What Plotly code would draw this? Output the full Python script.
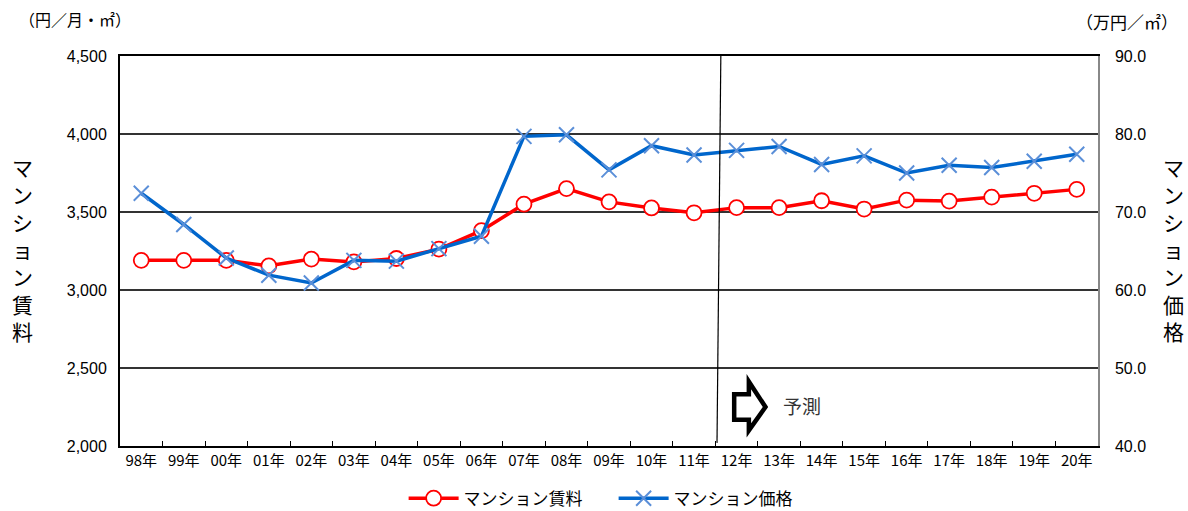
import plotly.graph_objects as go

years = ["98年", "99年", "00年", "01年", "02年", "03年", "04年", "05年", "06年", "07年", "08年",
         "09年", "10年", "11年", "12年", "13年", "14年", "15年", "16年", "17年", "18年", "19年", "20年"]

# マンション賃料 (円/月・㎡), left axis
rent = [3190, 3190, 3190, 3155, 3198, 3180, 3202, 3262, 3380, 3550, 3650,
        3565, 3526, 3495, 3528, 3528, 3572, 3519, 3576, 3570, 3595, 3620, 3645]

# マンション価格 (万円/㎡), right axis
price = [72.4, 68.4, 64.1, 61.9, 60.9, 63.8, 63.7, 65.3, 66.9, 79.7, 79.9,
         75.4, 78.5, 77.3, 77.9, 78.4, 76.1, 77.2, 75.0, 76.0, 75.7, 76.5, 77.4]

FONT = "Noto Sans CJK JP"

fig = go.Figure()

fig.add_trace(go.Scatter(
    x=years, y=rent, name="マンション賃料", mode="lines+markers",
    line=dict(color="#ff0000", width=3.5),
    marker=dict(symbol="circle", size=15, color="white",
                line=dict(color="#ff0000", width=1.8)),
    yaxis="y",
))

fig.add_trace(go.Scatter(
    x=years, y=price, name="マンション価格", mode="lines+markers",
    line=dict(color="#0066cc", width=3.5),
    marker=dict(symbol="x-thin", size=15, color="#5b8fd8",
                line=dict(color="#5b8fd8", width=2)),
    yaxis="y2",
))

# forecast divider between 11年 and 12年
fig.add_shape(type="line", xref="x", yref="paper",
              x0=13.63, x1=13.54, y0=1, y1=0.008,
              line=dict(color="black", width=1.2))

# outlined block arrow pointing right
fig.add_shape(type="path", xref="paper", yref="paper",
              path="M 0.628 0.133 L 0.643 0.133 L 0.643 0.165 L 0.660 0.100 L 0.643 0.040 "
                   "L 0.643 0.067 L 0.628 0.067 Z",
              line=dict(color="black", width=4.5), fillcolor="white")

fig.add_annotation(text="予測", xref="paper", yref="paper", x=0.676, y=0.105,
                   xanchor="left", yanchor="middle", showarrow=False,
                   font=dict(family=FONT, size=19, color="#333333"))

# unit labels
fig.add_annotation(text="（円／月・㎡）", xref="paper", yref="paper", x=-0.105, y=1.095,
                   xanchor="left", yanchor="middle", showarrow=False,
                   font=dict(family=FONT, size=16, color="black"))
fig.add_annotation(text="（万円／㎡）", xref="paper", yref="paper", x=0.975, y=1.088,
                   xanchor="left", yanchor="middle", showarrow=False,
                   font=dict(family=FONT, size=17, color="black"))

# vertical axis titles
fig.add_annotation(text="<br>".join("マンション賃料"), xref="paper", yref="paper",
                   x=-0.1, y=0.505, xanchor="center", yanchor="middle", showarrow=False,
                   font=dict(family=FONT, size=21, color="black"))
fig.add_annotation(text="<br>".join("マンション価格"), xref="paper", yref="paper",
                   x=1.077, y=0.505, xanchor="center", yanchor="middle", showarrow=False,
                   font=dict(family=FONT, size=21, color="black"))

fig.update_layout(
    width=1188, height=511,
    margin=dict(l=120, r=90, t=56, b=65, autoexpand=False),
    paper_bgcolor="white", plot_bgcolor="white",
    font=dict(family=FONT, size=15, color="black"),
    showlegend=True,
    legend=dict(orientation="h", x=0.29, xanchor="left", y=-0.135, yanchor="middle",
                font=dict(family=FONT, size=17), itemwidth=50, tracegroupgap=0,
                entrywidth=145, entrywidthmode="pixels"),
    xaxis=dict(
        type="category", showgrid=False, showline=True, linecolor="black", linewidth=2,
        mirror=True, ticks="inside", ticklen=5, tickcolor="black", tickson="boundaries",
        tickfont=dict(family=FONT, size=15), range=[-0.5, 22.5], automargin=False,
    ),
    yaxis=dict(
        range=[2000, 4500], dtick=500, tickformat=",", showgrid=True,
        gridcolor="#333333", gridwidth=1.5, showline=True, linecolor="black", linewidth=2,
        ticks="", tickfont=dict(family="Liberation Sans", size=16), zeroline=False,
        ticklabelstandoff=8, automargin=False,
    ),
    yaxis2=dict(
        range=[40, 90], dtick=10, tickformat=".1f", overlaying="y", side="right",
        showgrid=False, showline=True, linecolor="#888888", linewidth=1.5,
        ticks="", tickfont=dict(family="Liberation Sans", size=16), zeroline=False,
        ticklabelstandoff=12, automargin=False,
    ),
)

fig.write_html("out.html")
